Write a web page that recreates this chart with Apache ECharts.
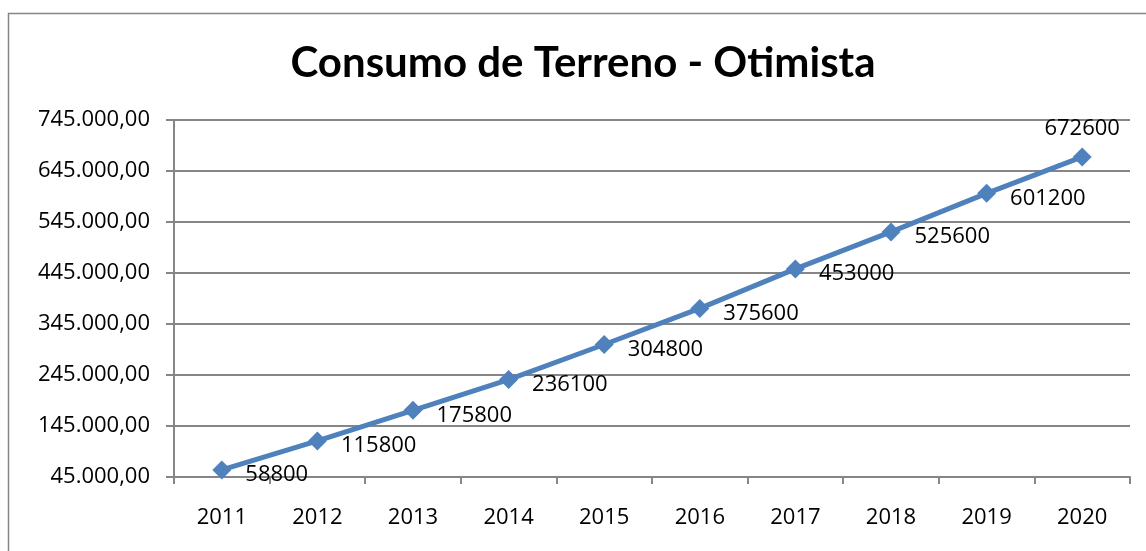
<!DOCTYPE html>
<html>
<head>
<meta charset="utf-8">
<script src="https://cdn.jsdelivr.net/npm/echarts@6/dist/echarts.min.js"></script>
<style>
  html, body { margin: 0; padding: 0; background: #fff; }
  #chart { width: 1146px; height: 551px; }
</style>
</head>
<body>
<div id="chart"></div>
<script>
// Land consumption, optimistic scenario
const years = ['2011', '2012', '2013', '2014', '2015', '2016', '2017', '2018', '2019', '2020'];
const consumo = [58800, 115800, 175800, 236100, 304800, 375600, 453000, 525600, 601200, 672600];
const yMin = 45000;
const yMax = 745000;
const yStep = 100000;
const titleText = 'Consumo de Terreno - Otimista';

// pt-BR style number: 745.000,00
function fmtBR(v) {
  const s = Math.round(v).toString().replace(/\B(?=(\d{3})+(?!\d))/g, '.');
  return s + ',00';
}

const labelFont = 'Open Sans';
const axisGray = '#868686';
const blue = '#4F81BD';

const chart = echarts.init(document.getElementById('chart'), null, { renderer: 'canvas' });

const seriesData = consumo.map((v, i) => {
  const last = i === consumo.length - 1;
  return {
    value: v,
    label: last
      ? { position: 'top', distance: 8, offset: [0, 0] }
      : { position: 'right', distance: 14, offset: [0, 5] }
  };
});

chart.setOption({
  animation: false,
  backgroundColor: '#ffffff',
  graphic: [
    {
      type: 'rect',
      shape: { x: 8.5, y: 13.5, width: 1300, height: 700 },
      style: { fill: 'none', stroke: '#868686', lineWidth: 1.5 },
      silent: true
    },
    {
      type: 'text',
      x: 583,
      y: 42,
      style: {
        text: titleText,
        font: 'bold 42px Lato',
        fill: '#000',
        textAlign: 'center',
        textVerticalAlign: 'top'
      }
    }
  ],
  grid: { left: 174, top: 120, right: 16, bottom: 74, containLabel: false },
  xAxis: {
    type: 'category',
    data: years,
    boundaryGap: true,
    axisLine: { lineStyle: { color: axisGray, width: 2 } },
    axisTick: { show: true, length: 7, lineStyle: { color: axisGray, width: 2 } },
    axisLabel: { margin: 30, color: '#000', fontFamily: labelFont, fontSize: 22 },
    splitLine: { show: false }
  },
  yAxis: {
    type: 'value',
    min: yMin,
    max: yMax,
    interval: yStep,
    axisLine: { show: true, lineStyle: { color: axisGray, width: 2 } },
    axisTick: { show: true, length: 8, lineStyle: { color: axisGray, width: 2 } },
    axisLabel: { margin: 24, color: '#000', fontFamily: labelFont, fontSize: 22, formatter: fmtBR },
    splitLine: { show: true, lineStyle: { color: axisGray, width: 2 } }
  },
  series: [{
    type: 'line',
    data: seriesData,
    symbol: 'diamond',
    symbolSize: 19,
    itemStyle: { color: blue },
    lineStyle: { color: blue, width: 5 },
    label: {
      show: true,
      color: '#000',
      fontFamily: labelFont,
      fontSize: 22
    }
  }]
});
</script>
</body>
</html>
